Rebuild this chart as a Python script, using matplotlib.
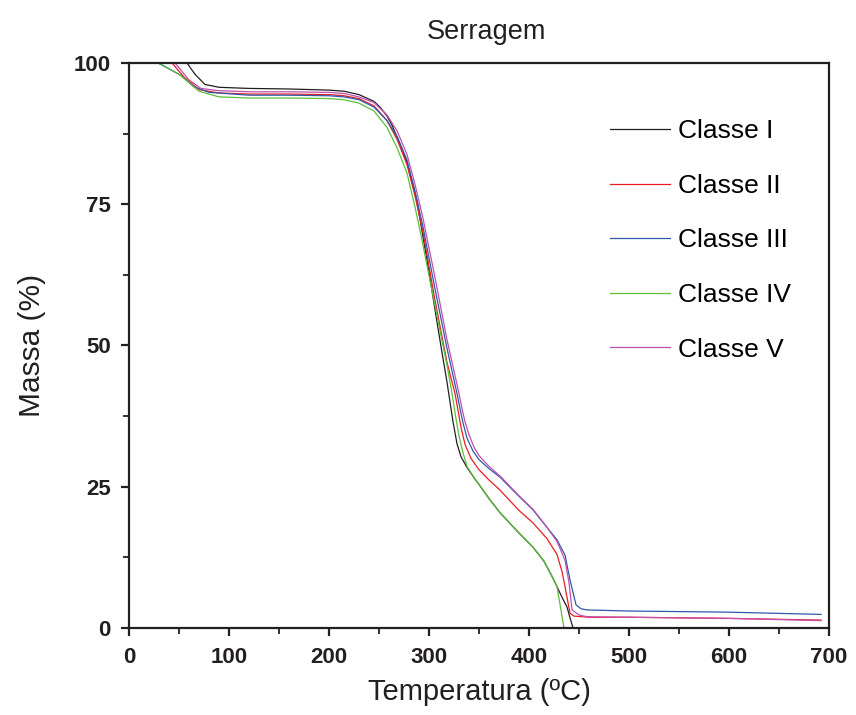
import matplotlib
matplotlib.use("Agg")
import matplotlib.pyplot as plt
from matplotlib.ticker import MultipleLocator

# TGA curves: temperature (ºC) and mass (%)
t_classe1 = [58, 66, 76, 90, 120, 160, 200, 215, 230, 245, 251, 258, 263, 268, 273, 278, 283, 288,
             294, 300, 306, 312, 318, 324, 328, 332, 338, 345, 350, 360, 371, 390, 404, 415, 424,
             432, 438, 441, 444]
m_classe1 = [100, 98, 96.2, 95.7, 95.5, 95.4, 95.2, 95.0, 94.4, 93.2, 92.2, 90.6, 89.0, 86.9, 84.8,
             82.3, 79.0, 75.5, 69.2, 63.0, 56.3, 49.8, 43.5, 36.5, 32.6, 30.3, 28.4, 26.6, 25.4,
             22.9, 20.4, 16.8, 14.3, 11.8, 8.8, 5.8, 3.7, 1.8, 0]

t_classe2 = [43, 55, 70, 90, 120, 160, 200, 215, 230, 245, 258, 268, 278, 286, 294, 306, 318, 326,
             329, 332, 336, 342, 350, 360, 371, 390, 404, 418, 428, 433, 436, 441, 445, 460, 500,
             600, 692]
m_classe2 = [100, 97.5, 95.3, 94.7, 94.5, 94.5, 94.4, 94.2, 93.7, 92.4, 89.8, 86.5, 82.0, 76.5,
             70.0, 58.0, 47.0, 41.5, 38.5, 35.5, 32.5, 30.0, 28.0, 26.2, 24.4, 20.8, 18.6, 15.8,
             13.0, 10.0, 7.3, 2.6, 2.1, 1.9, 1.9, 1.7, 1.4]

t_classe3 = [29, 51, 65, 80, 120, 160, 200, 215, 230, 245, 258, 268, 278, 286, 294, 306, 318, 328,
             331, 334, 338, 344, 350, 360, 371, 390, 404, 418, 428, 436, 441, 447, 452, 458, 500,
             600, 692]
m_classe3 = [100, 97.9, 95.8, 94.8, 94.3, 94.3, 94.2, 94.0, 93.5, 92.2, 89.8, 87.0, 82.8, 77.3,
             71.0, 60.0, 49.5, 41.5, 38.8, 36.3, 33.6, 31.3, 29.8, 28.2, 26.7, 23.3, 20.9, 17.8,
             15.6, 12.9, 8.5, 4.1, 3.4, 3.2, 3.0, 2.8, 2.4]

t_classe4 = [30, 51, 70, 90, 120, 160, 200, 215, 230, 245, 258, 268, 278, 286, 292, 306, 318, 323,
             327, 330, 334, 338, 345, 350, 360, 371, 390, 404, 415, 420, 428, 435]
m_classe4 = [100, 97.9, 95.0, 94.0, 93.8, 93.8, 93.7, 93.5, 92.9, 91.5, 88.6, 85.0, 80.5, 74.5,
             69.5, 57.0, 46.5, 41.5, 37.0, 34.0, 31.0, 28.6, 26.6, 25.4, 22.9, 20.4, 16.8, 14.3,
             11.8, 10.2, 7.3, 0]

t_classe5 = [46, 60, 72, 90, 120, 160, 200, 215, 230, 245, 258, 268, 278, 286, 294, 306, 318, 330,
             333, 336, 340, 345, 350, 360, 371, 390, 404, 418, 428, 436, 440, 443, 450, 458, 500,
             600, 692]
m_classe5 = [100, 97.0, 95.5, 95.1, 94.9, 94.9, 94.8, 94.6, 94.0, 93.0, 90.8, 88.0, 83.8, 78.5,
             72.5, 62.0, 51.0, 41.5, 38.8, 36.5, 34.2, 32.0, 30.5, 28.6, 26.9, 23.4, 21.0, 17.8,
             15.3, 12.0, 8.0, 3.2, 2.3, 2.0, 1.9, 1.7, 1.3]

labels = ["Classe I", "Classe II", "Classe III", "Classe IV", "Classe V"]
colors = ["#231f20", "#ed1c24", "#2e5aa8", "#5bbf3a", "#c050b0"]

series = [(t_classe1, m_classe1), (t_classe2, m_classe2), (t_classe3, m_classe3),
          (t_classe4, m_classe4), (t_classe5, m_classe5)]

plt.rcParams["font.family"] = ["Liberation Sans", "DejaVu Sans"]
ink = "#231f20"

fig = plt.figure(figsize=(8.56, 7.15), dpi=100)
ax = fig.add_axes([0.1507, 0.1217, 0.8178, 0.7902])

for (t, m), lab, c in zip(series, labels, colors):
    ax.plot(t, m, color=c, lw=0.9, label=lab)

ax.set_xlim(0, 700)
ax.set_ylim(0, 100)
ax.xaxis.set_major_locator(MultipleLocator(100))
ax.xaxis.set_minor_locator(MultipleLocator(50))
ax.yaxis.set_major_locator(MultipleLocator(25))
ax.yaxis.set_minor_locator(MultipleLocator(12.5))

for s in ax.spines.values():
    s.set_linewidth(1.6)
    s.set_color(ink)
ax.tick_params(which="major", direction="out", length=6, width=1.6, color=ink)
ax.tick_params(which="minor", direction="out", length=4, width=1.3, color=ink)
ax.tick_params(axis="x", which="major", pad=8)
ax.tick_params(axis="y", which="major", pad=7)
ax.tick_params(top=False, right=False)

for lbl in ax.get_xticklabels() + ax.get_yticklabels():
    lbl.set_family(["Liberation Sans Narrow", "Liberation Sans", "DejaVu Sans"])
    lbl.set_fontweight("bold")
    lbl.set_fontsize(16)
    lbl.set_color(ink)

ax.set_xlabel("Temperatura (ºC)", fontsize=21, labelpad=7, color=ink)
ax.set_ylabel("Massa (%)", fontsize=21.5, labelpad=20, color=ink)
ax.set_title("Serragem", fontsize=19.5, pad=17, color=ink, x=0.511)

ax.legend(loc="upper left", bbox_to_anchor=(0.668, 0.924), frameon=False, fontsize=19,
          handlelength=2.27, handletextpad=0.3, labelspacing=1.16, borderpad=0)

fig.savefig("out.png", dpi=100)
